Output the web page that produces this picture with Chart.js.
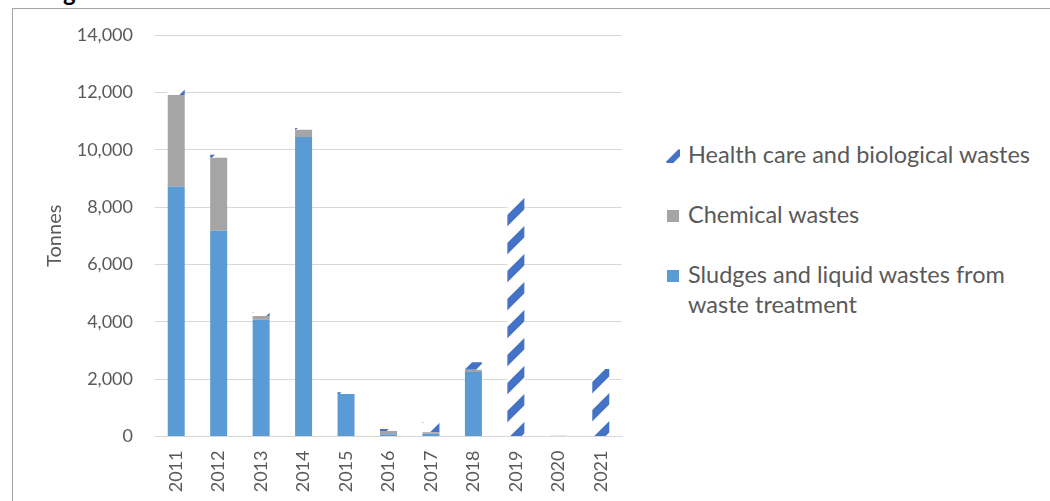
<!DOCTYPE html>
<html>
<head>
<meta charset="utf-8">
<script src="https://cdn.jsdelivr.net/npm/chart.js@4/dist/chart.umd.min.js"></script>
<style>
  html, body { margin: 0; padding: 0; background: #fff; overflow: hidden; }
  body { width: 1050px; height: 501px; position: relative; font-family: Lato, "Noto Sans", sans-serif; }
  #frame { position: absolute; left: 12px; top: 8px; width: 1200px; height: 700px; border: 1px solid #a6a6a6; }
  #title { position: absolute; left: 63px; top: -23px; font: bold 24px Lato, sans-serif; color: #000; }
  #wrap { position: absolute; left: 0; top: 0; width: 640px; height: 501px; }
  #legend { position: absolute; left: 666px; top: 139px; color: #595959; font-size: 23.5px; line-height: 30px; }
  .item { position: relative; padding-left: 22px; margin-bottom: 30px; white-space: nowrap; }
  .item .box { position: absolute; left: 0; top: 10px; width: 14px; height: 14px; }
</style>
</head>
<body>
<div id="title">g</div>
<div id="frame"></div>
<div id="wrap"><canvas id="chart"></canvas></div>
<div id="legend"></div>
<script>
const years = ["2011", "2012", "2013", "2014", "2015", "2016", "2017", "2018", "2019", "2020", "2021"];
const sludges = [8720, 7170, 4070, 10440, 1480, 75, 100, 2250, 0, 0, 0];
const chemical = [3190, 2550, 130, 255, 0, 115, 50, 80, 0, 25, 0];
const healthCare = [175, 105, 130, 60, 60, 70, 350, 260, 8320, 0, 2350];
const seriesNames = [
  "Health care and biological wastes",
  "Chemical wastes",
  ["Sludges and liquid wastes from", "waste treatment"],
];

const BLUE = "#5B9BD5";
const GREY = "#A5A5A5";
const DARK = "#4472C4";

// wide upward diagonal hatch like the excel pattern fill
function makeHatch() {
  const c = document.createElement("canvas");
  c.width = 28;
  c.height = 28;
  const g = c.getContext("2d");
  g.fillStyle = "#fff";
  g.fillRect(0, 0, 28, 28);
  g.strokeStyle = DARK;
  g.lineWidth = 8;
  g.beginPath();
  g.moveTo(-7, 35); g.lineTo(35, -7);
  g.moveTo(-7, 7); g.lineTo(7, -7);
  g.moveTo(21, 35); g.lineTo(35, 21);
  g.stroke();
  return g.createPattern(c, "repeat");
}
const hatch = makeHatch();

// legend
const legendEl = document.getElementById("legend");
const legendColors = [null, GREY, BLUE];
seriesNames.forEach((name, i) => {
  const item = document.createElement("div");
  item.className = "item";
  const box = document.createElement("canvas");
  box.className = "box";
  box.width = 14;
  box.height = 14;
  const g = box.getContext("2d");
  if (legendColors[i]) {
    g.fillStyle = legendColors[i];
    g.fillRect(1, 1, 12, 12);
  } else {
    g.strokeStyle = DARK;
    g.lineWidth = 6;
    g.beginPath();
    g.moveTo(2, 15); g.lineTo(15, 2);
    g.stroke();
  }
  item.appendChild(box);
  const lines = Array.isArray(name) ? name : [name];
  lines.forEach((l, k) => {
    if (k) item.appendChild(document.createElement("br"));
    item.appendChild(document.createTextNode(l));
  });
  legendEl.appendChild(item);
});

const tickFont = { family: "Lato", size: 18 };

new Chart(document.getElementById("chart"), {
  type: "bar",
  data: {
    labels: years,
    datasets: [
      { label: seriesNames[2].join(" "), data: sludges, backgroundColor: BLUE },
      { label: seriesNames[1], data: chemical, backgroundColor: GREY },
      { label: seriesNames[0], data: healthCare, backgroundColor: hatch },
    ],
  },
  options: {
    responsive: true,
    maintainAspectRatio: false,
    animation: false,
    layout: { padding: { left: 0, right: 18, top: 35, bottom: 0 } },
    datasets: { bar: { categoryPercentage: 1, barPercentage: 0.4 } },
    plugins: { legend: { display: false }, tooltip: { enabled: false } },
    scales: {
      x: {
        stacked: true,
        grid: { display: false, drawTicks: false },
        border: { color: "#d9d9d9" },
        ticks: { color: "#595959", font: tickFont, minRotation: 90, maxRotation: 90, padding: 14 },
        afterFit: (s) => { s.height = 64.5; },
      },
      y: {
        stacked: true,
        min: 0,
        max: 14000,
        grid: { color: "#d9d9d9", drawTicks: false },
        border: { display: false },
        ticks: {
          stepSize: 2000,
          color: "#595959",
          font: tickFont,
          padding: 22,
          callback: (v) => v.toLocaleString("en-US"),
        },
        title: {
          display: true,
          text: "Tonnes",
          color: "#595959",
          font: { family: "Lato", size: 20 },
          padding: { top: 43, bottom: 0 },
        },
        afterFit: (s) => { s.width = 155; },
      },
    },
  },
});
</script>
</body>
</html>
